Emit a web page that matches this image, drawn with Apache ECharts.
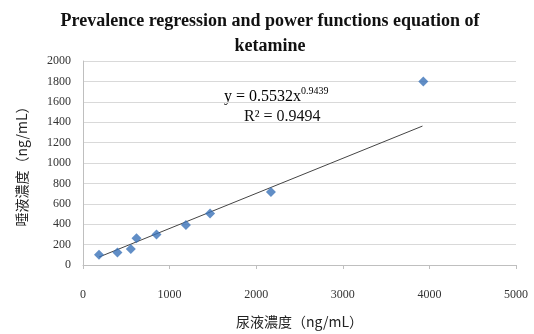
<!DOCTYPE html>
<html>
<head>
<meta charset="utf-8">
<script src="https://cdn.jsdelivr.net/npm/echarts@6/dist/echarts.min.js"></script>
<style>
  html, body { margin: 0; padding: 0; background: #fff; }
  #chart { width: 534px; height: 334px; }
</style>
</head>
<body>
<div id="chart"></div>
<script>
// urine concentration (x) vs saliva concentration (y), ng/mL
const urine = [185, 398, 552, 618, 849, 1189, 1467, 2170, 3930];
const saliva = [101, 123, 158, 262, 300, 392, 505, 715, 1800];
// trend line (start, end)
const trendX = [185, 3920];
const trendY = [78, 1362];
const xTicks = [0, 1000, 2000, 3000, 4000, 5000];
const yTicks = [0, 200, 400, 600, 800, 1000, 1200, 1400, 1600, 1800, 2000];

const chart = echarts.init(document.getElementById('chart'));
const serif = '"Liberation Serif", "Times New Roman", serif';

const option = {
  animation: false,
  title: {
    text: 'Prevalence regression and power functions equation of\nketamine',
    left: 265,
    top: 4,
    textAlign: 'center',
    textStyle: {
      fontFamily: serif,
      fontWeight: 'bold',
      fontSize: 18,
      color: '#111',
      lineHeight: 25
    }
  },
  grid: { left: 83, right: 18, top: 61, bottom: 67 },
  xAxis: {
    type: 'value',
    min: xTicks[0],
    max: xTicks[xTicks.length - 1],
    interval: 1000,
    name: '尿液濃度（ng/mL）',
    nameLocation: 'middle',
    nameGap: 50,
    nameTextStyle: { fontFamily: '"Noto Sans CJK TC", serif', fontSize: 14, color: '#222' },
    axisLine: { show: true, lineStyle: { color: '#bfbfbf' } },
    axisTick: { show: true, length: 4, lineStyle: { color: '#bfbfbf' } },
    axisLabel: { fontFamily: serif, fontSize: 12, color: '#333', margin: 24, formatter: v => String(v) },
    splitLine: { show: false }
  },
  yAxis: {
    type: 'value',
    min: yTicks[0],
    max: yTicks[yTicks.length - 1],
    interval: 200,
    name: '唾液濃度（ng/mL）',
    nameLocation: 'middle',
    nameGap: 54,
    nameRotate: 90,
    nameTextStyle: { fontFamily: '"Noto Sans CJK TC", serif', fontSize: 14, color: '#222' },
    axisLine: { show: true, lineStyle: { color: '#bfbfbf' } },
    axisTick: { show: false },
    axisLabel: { fontFamily: serif, fontSize: 12, color: '#333', margin: 12, formatter: v => String(v) },
    splitLine: { show: true, lineStyle: { color: '#d9d9d9' } }
  },
  series: [
    {
      type: 'line',
      data: trendX.map((x, i) => [x, trendY[i]]),
      symbol: 'none',
      lineStyle: { color: '#444', width: 1 },
      z: 2
    },
    {
      type: 'scatter',
      data: urine.map((x, i) => [x, saliva[i]]),
      symbol: 'diamond',
      symbolSize: 10,
      itemStyle: { color: '#3a72b8' },
      z: 3
    }
  ],
  graphic: [
    {
      type: 'text',
      left: 224,
      top: 86,
      style: {
        text: '{n|y = 0.5532x}{s|0.9439}',
        rich: {
          n: { fontFamily: serif, fontSize: 16, color: '#111', verticalAlign: 'bottom' },
          s: { fontFamily: serif, fontSize: 10, color: '#111', padding: [0, 0, 9, 0] }
        }
      }
    },
    {
      type: 'text',
      left: 244,
      top: 109,
      style: {
        text: 'R² = 0.9494',
        font: '16px ' + serif,
        fill: '#111'
      }
    }
  ]
};

chart.setOption(option);
</script>
</body>
</html>
